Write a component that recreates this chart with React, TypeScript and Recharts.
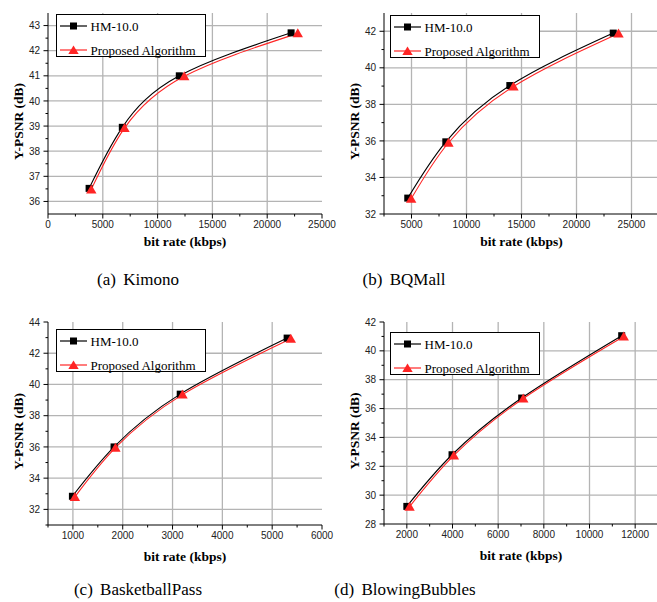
import React from 'react';
import { LineChart, Line, XAxis, YAxis, CartesianGrid, Legend } from 'recharts';

// ---------- data ----------
const seriesNames = ['HM-10.0', 'Proposed Algorithm'];
const captions = ['(a) Kimono', '(b) BQMall', '(c) BasketballPass', '(d) BlowingBubbles'];

const kimonoHmRate = [3750, 6780, 11980, 22180];
const kimonoHmPsnr = [36.52, 38.95, 41.0, 42.71];
const kimonoPaRate = [3950, 6980, 12430, 22790];
const kimonoPaPsnr = [36.48, 38.92, 40.98, 42.69];

const bqmallHmRate = [4660, 8120, 13940, 23340];
const bqmallHmPsnr = [32.87, 35.95, 39.03, 41.9];
const bqmallPaRate = [4970, 8360, 14270, 23820];
const bqmallPaPsnr = [32.83, 35.9, 38.98, 41.88];

const basketHmRate = [990, 1826, 3154, 5300];
const basketHmPsnr = [32.84, 36.0, 39.38, 42.97];
const basketPaRate = [1040, 1854, 3200, 5374];
const basketPaPsnr = [32.8, 35.95, 39.35, 42.93];

const bubblesHmRate = [2000, 3980, 7030, 11410];
const bubblesHmPsnr = [29.22, 32.8, 36.73, 41.05];
const bubblesPaRate = [2120, 4060, 7100, 11500];
const bubblesPaPsnr = [29.2, 32.75, 36.7, 41.0];

// tick labels
const kimonoXTicks = [0, 5000, 10000, 15000, 20000, 25000];
const kimonoXMinor = [2500, 7500, 12500, 17500, 22500];
const kimonoYTicks = [36, 37, 38, 39, 40, 41, 42, 43];
const kimonoYMinor = [36.5, 37.5, 38.5, 39.5, 40.5, 41.5, 42.5];
const kimonoGridX = [5000, 10000, 15000, 20000];
const kimonoGridY = [36, 37, 38, 39, 40, 41, 42, 43];

const bqmallXTicks = [5000, 10000, 15000, 20000, 25000];
const bqmallXMinor = [2500, 7500, 12500, 17500, 22500];
const bqmallYTicks = [32, 34, 36, 38, 40, 42];
const bqmallYMinor = [33, 35, 37, 39, 41];
const bqmallGridX = [5000, 10000, 15000, 20000, 25000];
const bqmallGridY = [34, 36, 38, 40, 42];

const basketXTicks = [1000, 2000, 3000, 4000, 5000, 6000];
const basketXMinor = [500, 1500, 2500, 3500, 4500, 5500];
const basketYTicks = [32, 34, 36, 38, 40, 42, 44];
const basketYMinor = [31, 33, 35, 37, 39, 41, 43];
const basketGridX = [1000, 2000, 3000, 4000, 5000];
const basketGridY = [32, 34, 36, 38, 40, 42];

const bubblesXTicks = [2000, 4000, 6000, 8000, 10000, 12000];
const bubblesXMinor = [1000, 3000, 5000, 7000, 9000, 11000];
const bubblesYTicks = [28, 30, 32, 34, 36, 38, 40, 42];
const bubblesYMinor = [29, 31, 33, 35, 37, 39, 41];
const bubblesGridX = [2000, 4000, 6000, 8000, 10000, 12000];
const bubblesGridY = [30, 32, 34, 36, 38, 40];

// ---------- styling ----------
const SERIF = '"Liberation Serif", "Times New Roman", Times, serif';
const SANS = '"Liberation Sans", Arial, Helvetica, sans-serif';
const RED = '#ff2525';
const GRID = '#b4b4b4';
const MAJOR = 4.5;
const MINOR = 2.5;
const X_MARGIN = 2;
const Y_MARGIN = 3.5;

const zip = (xs: number[], ys: number[]) => xs.map((x, i) => ({ x, y: ys[i] }));

const Square = (p: any) => {
  if (p.cx == null || p.cy == null) return <g key={p.index} />;
  return <rect key={p.index} x={p.cx - 3.5} y={p.cy - 3.5} width={7} height={7} fill="#000" />;
};
const Triangle = (p: any) => {
  if (p.cx == null || p.cy == null) return <g key={p.index} />;
  const { cx, cy } = p;
  return (
    <polygon
      key={p.index}
      points={`${cx},${cy - 5} ${cx - 5.2},${cy + 4} ${cx + 5.2},${cy + 4}`}
      fill={RED}
    />
  );
};

const makeXTick = (majors: number[]) => (props: any) => {
  const { x, y, payload } = props;
  const axisY = y - MAJOR - X_MARGIN;
  const isMajor = majors.includes(payload.value);
  return (
    <g>
      <line x1={x} x2={x} y1={axisY} y2={axisY + (isMajor ? MAJOR : MINOR)} stroke="#000" strokeWidth={1} />
      {isMajor && (
        <text x={x} y={y} dy="0.71em" textAnchor="middle" fontSize={10} fontFamily={SANS} fill="#222">
          {payload.value}
        </text>
      )}
    </g>
  );
};

const makeYTick = (majors: number[]) => (props: any) => {
  const { x, y, payload } = props;
  const axisX = x + MAJOR + Y_MARGIN;
  const isMajor = majors.includes(payload.value);
  return (
    <g>
      <line x1={axisX} x2={axisX - (isMajor ? MAJOR : MINOR)} y1={y} y2={y} stroke="#000" strokeWidth={1} />
      {isMajor && (
        <text x={x} y={y} dy="0.36em" textAnchor="end" fontSize={10} fontFamily={SANS} fill="#222">
          {payload.value}
        </text>
      )}
    </g>
  );
};

const LEGEND_W = 150;
const LEGEND_H = 43;

const LegendBox = () => (
  <div
    style={{
      width: LEGEND_W,
      height: LEGEND_H,
      border: '1px solid #000',
      background: '#fff',
      boxSizing: 'border-box',
    }}
  >
    <svg width={LEGEND_W - 2} height={LEGEND_H - 2} style={{ display: 'block' }}>
      <line x1={3} x2={30} y1={11} y2={11} stroke="#000" strokeWidth={1.2} />
      <rect x={13} y={7.5} width={7} height={7} fill="#000" />
      <text x={33.5} y={11} dy="0.35em" fontFamily={SERIF} fontSize={13} fill="#000">
        {seriesNames[0]}
      </text>
      <line x1={3} x2={30} y1={35} y2={35} stroke={RED} strokeWidth={1.2} />
      <polygon points={`16.5,30.5 11.3,39 21.7,39`} fill={RED} />
      <text x={33.5} y={35} dy="0.35em" fontFamily={SERIF} fontSize={13} fill="#000">
        {seriesNames[1]}
      </text>
    </svg>
  </div>
);

type PanelProps = {
  left: number;
  top: number;
  width: number;
  height: number;
  margin: { top: number; right: number; bottom: number; left: number };
  yAxisWidth: number;
  xDomain: [number, number];
  yDomain: [number, number];
  xTicks: number[];
  xMinor: number[];
  yTicks: number[];
  yMinor: number[];
  gridX: number[];
  gridY: number[];
  hm: { x: number; y: number }[];
  pa: { x: number; y: number }[];
  legendPos: { left: number; top: number };
  xTitleGap: number;
};

const Panel = (p: PanelProps) => {
  const XTick = makeXTick(p.xTicks);
  const YTick = makeYTick(p.yTicks);
  return (
    <div style={{ position: 'absolute', left: p.left, top: p.top, width: p.width, height: p.height }}>
      <LineChart width={p.width} height={p.height} margin={p.margin} style={{ overflow: 'visible' }}>
        <CartesianGrid
          stroke={GRID}
          strokeWidth={1.3}
          verticalValues={p.gridX}
          horizontalValues={p.gridY}
        />
        <XAxis
          type="number"
          dataKey="x"
          domain={p.xDomain}
          ticks={[...p.xTicks, ...p.xMinor]}
          interval={0}
          allowDataOverflow
          height={30}
          tickSize={MAJOR}
          tickMargin={X_MARGIN}
          tickLine={false}
          tick={XTick}
          axisLine={{ stroke: '#000', strokeWidth: 1 }}
          label={{
            content: (lp: any) => {
              const vb = lp.viewBox || {};
              return (
                <text
                  x={vb.x + vb.width / 2}
                  y={vb.y + p.xTitleGap}
                  dy="0.35em"
                  textAnchor="middle"
                  fontFamily={SERIF}
                  fontWeight="bold"
                  fontSize={13.5}
                  fill="#000"
                >
                  bit rate (kbps)
                </text>
              );
            },
          }}
        />
        <YAxis
          type="number"
          dataKey="y"
          domain={p.yDomain}
          ticks={[...p.yTicks, ...p.yMinor]}
          interval={0}
          allowDataOverflow
          width={p.yAxisWidth}
          tickSize={MAJOR}
          tickMargin={Y_MARGIN}
          tickLine={false}
          tick={YTick}
          axisLine={{ stroke: '#000', strokeWidth: 1 }}
          label={{
            content: (lp: any) => {
              const vb = lp.viewBox || {};
              const cx = vb.x + vb.width - 30;
              const cy = vb.y + vb.height / 2 + 8;
              return (
                <text
                  x={cx}
                  y={cy}
                  dy="0.35em"
                  transform={`rotate(-90 ${cx} ${cy})`}
                  textAnchor="middle"
                  fontFamily={SERIF}
                  fontWeight="bold"
                  fontSize={13.5}
                  fill="#000"
                >
                  Y-PSNR (dB)
                </text>
              );
            },
          }}
        />
        <Legend
          layout="horizontal"
          verticalAlign="middle"
          align="center"
          content={() => <LegendBox />}
          wrapperStyle={{ left: p.legendPos.left, top: p.legendPos.top, width: LEGEND_W, height: LEGEND_H }}
        />
        <Line
          data={p.hm}
          dataKey="y"
          name={seriesNames[0]}
          type="natural"
          stroke="#000"
          strokeWidth={1.1}
          dot={Square}
          activeDot={false}
          isAnimationActive={false}
        />
        <Line
          data={p.pa}
          dataKey="y"
          name={seriesNames[1]}
          type="natural"
          stroke={RED}
          strokeWidth={1.1}
          dot={Triangle}
          activeDot={false}
          isAnimationActive={false}
        />
      </LineChart>
    </div>
  );
};

const Caption = ({ text, cx, cy }: { text: string; cx: number; cy: number }) => (
  <div
    style={{
      position: 'absolute',
      left: cx - 150,
      top: cy - 10,
      width: 300,
      height: 20,
      lineHeight: '20px',
      textAlign: 'center',
      fontFamily: SERIF,
      fontSize: 17,
      wordSpacing: 3,
      color: '#000',
    }}
  >
    {text}
  </div>
);

export default function App() {
  return (
    <div
      style={{
        position: 'absolute',
        left: 0,
        top: 0,
        width: 657,
        height: 602,
        overflow: 'hidden',
        background: '#fff',
      }}
    >
      <style>{'.recharts-wrapper svg { overflow: visible; }'}</style>
      <Panel
        left={0}
        top={0}
        width={330}
        height={250}
        margin={{ top: 13, right: 8, bottom: 6, left: 0 }}
        yAxisWidth={48}
        xDomain={[0, 25000]}
        yDomain={[35.5, 43.5]}
        xTicks={kimonoXTicks}
        xMinor={kimonoXMinor}
        yTicks={kimonoYTicks}
        yMinor={kimonoYMinor}
        gridX={kimonoGridX}
        gridY={kimonoGridY}
        hm={zip(kimonoHmRate, kimonoHmPsnr)}
        pa={zip(kimonoPaRate, kimonoPaPsnr)}
        legendPos={{ left: 56, top: 14 }}
        xTitleGap={27}
      />
      <Panel
        left={330}
        top={0}
        width={330}
        height={250}
        margin={{ top: 13, right: 1, bottom: 6, left: 0 }}
        yAxisWidth={54}
        xDomain={[2500, 27500]}
        yDomain={[32, 43]}
        xTicks={bqmallXTicks}
        xMinor={bqmallXMinor}
        yTicks={bqmallYTicks}
        yMinor={bqmallYMinor}
        gridX={bqmallGridX}
        gridY={bqmallGridY}
        hm={zip(bqmallHmRate, bqmallHmPsnr)}
        pa={zip(bqmallPaRate, bqmallPaPsnr)}
        legendPos={{ left: 60, top: 15 }}
        xTitleGap={27}
      />
      <Panel
        left={0}
        top={300}
        width={330}
        height={270}
        margin={{ top: 22, right: 8, bottom: 15, left: 0 }}
        yAxisWidth={48}
        xDomain={[500, 6000]}
        yDomain={[31, 44]}
        xTicks={basketXTicks}
        xMinor={basketXMinor}
        yTicks={basketYTicks}
        yMinor={basketYMinor}
        gridX={basketGridX}
        gridY={basketGridY}
        hm={zip(basketHmRate, basketHmPsnr)}
        pa={zip(basketPaRate, basketPaPsnr)}
        legendPos={{ left: 56, top: 29 }}
        xTitleGap={31}
      />
      <Panel
        left={330}
        top={300}
        width={330}
        height={270}
        margin={{ top: 22, right: 2, bottom: 16, left: 0 }}
        yAxisWidth={54}
        xDomain={[1000, 13000]}
        yDomain={[28, 42]}
        xTicks={bubblesXTicks}
        xMinor={bubblesXMinor}
        yTicks={bubblesYTicks}
        yMinor={bubblesYMinor}
        gridX={bubblesGridX}
        gridY={bubblesGridY}
        hm={zip(bubblesHmRate, bubblesHmPsnr)}
        pa={zip(bubblesPaRate, bubblesPaPsnr)}
        legendPos={{ left: 60, top: 32 }}
        xTitleGap={31}
      />
      <Caption text={captions[0]} cx={138} cy={280} />
      <Caption text={captions[1]} cx={404} cy={280} />
      <Caption text={captions[2]} cx={138} cy={590} />
      <Caption text={captions[3]} cx={405} cy={590} />
    </div>
  );
}
